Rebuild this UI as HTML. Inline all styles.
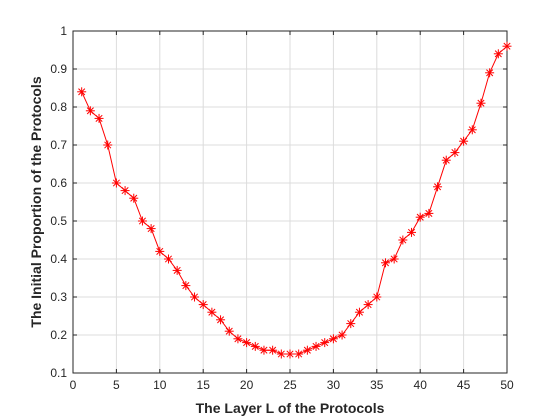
<!DOCTYPE html>
<html><head><meta charset="utf-8"><style>
body{margin:0;background:#fff;}
svg{display:block;font-family:"Liberation Sans",Arial,sans-serif;}
</style></head><body>
<svg id="chart" width="560" height="420"></svg>
<script>
const layers=[];for(let i=1;i<=50;i++)layers.push(i);
const proportions=[0.84,0.79,0.77,0.70,0.60,0.58,0.56,0.50,0.48,0.42,0.40,0.37,0.33,0.30,0.28,0.26,0.24,0.21,0.19,0.18,0.17,0.16,0.16,0.15,0.15,0.15,0.16,0.17,0.18,0.19,0.20,0.23,0.26,0.28,0.30,0.39,0.40,0.45,0.47,0.51,0.52,0.59,0.66,0.68,0.71,0.74,0.81,0.89,0.94,0.96];
const xTicks=[0,5,10,15,20,25,30,35,40,45,50];
const yTicks=[0.1,0.2,0.3,0.4,0.5,0.6,0.7,0.8,0.9,1];
const yTickLabels=["0.1","0.2","0.3","0.4","0.5","0.6","0.7","0.8","0.9","1"];
const L=73,R=507,T=31,B=373;
const xs=v=>L+(v-0)/50*(R-L);
const ys=v=>B-(v-0.1)/0.9*(B-T);
const NS="http://www.w3.org/2000/svg";
const svg=document.getElementById('chart');
function mk(tag,attrs,parent){const e=document.createElementNS(NS,tag);for(const k in attrs)e.setAttribute(k,attrs[k]);(parent||svg).appendChild(e);return e;}
const bg=mk('rect',{x:L,y:T,width:R-L,height:B-T,fill:'#fff'});


const grid=mk('g',{stroke:'#dcdcdc','stroke-width':1});


xTicks.forEach(t=>mk('line',{x1:xs(t),x2:xs(t),y1:T,y2:B},grid));
yTicks.forEach(t=>mk('line',{x1:L,x2:R,y1:ys(t),y2:ys(t)},grid));
const ax=mk('g',{stroke:'#262626','stroke-width':1,fill:'none'});


mk('rect',{x:L,y:T,width:R-L,height:B-T},ax);
xTicks.forEach(t=>{mk('line',{x1:xs(t),x2:xs(t),y1:B,y2:B-4},ax);mk('line',{x1:xs(t),x2:xs(t),y1:T,y2:T+4},ax);});
yTicks.forEach(t=>{mk('line',{x1:L,x2:L+4,y1:ys(t),y2:ys(t)},ax);mk('line',{x1:R,x2:R-4,y1:ys(t),y2:ys(t)},ax);});
xTicks.forEach(t=>{const e=mk('text',{x:xs(t),y:B+16,'text-anchor':'middle','font-size':12,fill:'#262626'});e.textContent=t;

});
yTicks.forEach((t,i)=>{const e=mk('text',{x:L-6,y:ys(t)+4,'text-anchor':'end','font-size':12,fill:'#262626'});e.textContent=yTickLabels[i];

});
const pts=layers.map((l,i)=>xs(l)+','+ys(proportions[i])).join(' ');
const line=mk('polyline',{points:pts,fill:'none',stroke:'#ff0000','stroke-width':1});


layers.forEach((l,i)=>{const x=xs(l),y=ys(proportions[i]),s=4.5,d=3.2;
const g=mk('g',{stroke:'#ff0000','stroke-width':1});


mk('line',{x1:x-s,x2:x+s,y1:y,y2:y},g);mk('line',{x1:x,x2:x,y1:y-s,y2:y+s},g);
mk('line',{x1:x-d,x2:x+d,y1:y-d,y2:y+d},g);mk('line',{x1:x-d,x2:x+d,y1:y+d,y2:y-d},g);});
const xt=mk('text',{x:(L+R)/2,y:413,'text-anchor':'middle','font-size':14,'font-weight':'bold',fill:'#262626'});
xt.textContent='The Layer L of the Protocols';


const yt=mk('text',{x:0,y:0,'text-anchor':'middle','font-size':14,'font-weight':'bold',fill:'#262626',transform:`translate(41,${(T+B)/2}) rotate(-90)`});
yt.textContent='The Initial Proportion of the Protocols';


</script>
</body></html>
